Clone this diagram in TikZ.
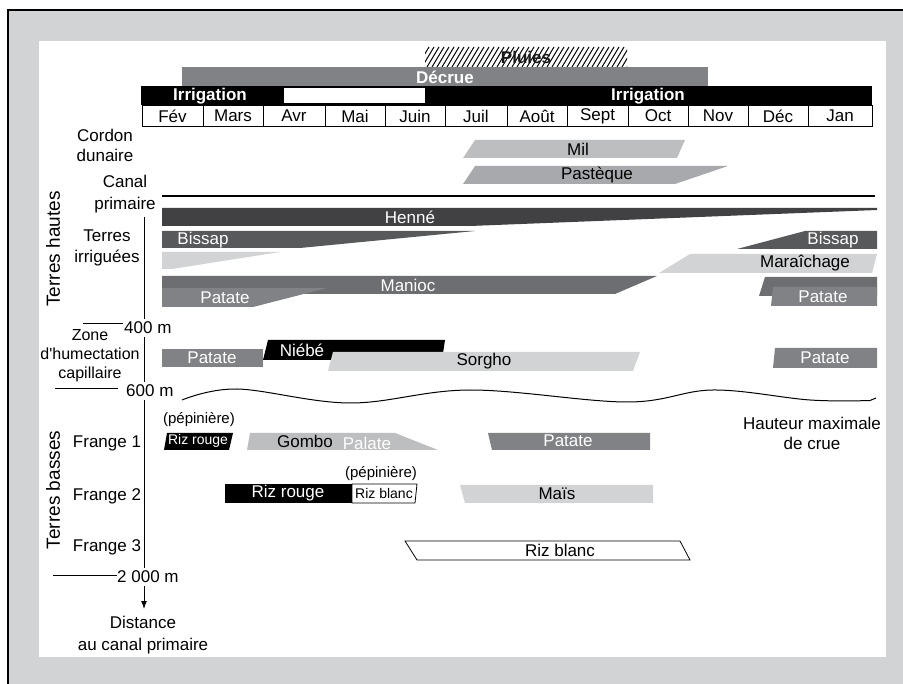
\documentclass[tikz,border=0pt]{standalone}
\usepackage{fontspec}
\setmainfont{Liberation Sans}
\newfontfamily\plainfont{Liberation Sans}
\usetikzlibrary{arrows.meta}
\definecolor{bggray}{HTML}{D1D3D4}
\definecolor{cHenne}{HTML}{414042}
\definecolor{cBissap}{HTML}{58595B}
\definecolor{cManioc}{HTML}{6D6E71}
\definecolor{cPatate}{HTML}{808285}
\definecolor{cPasteque}{HTML}{A7A9AC}
\definecolor{cMil}{HTML}{BCBEC0}
\definecolor{cLight}{HTML}{D1D3D4}
\definecolor{cPluies}{HTML}{1A1A1A}
\begin{document}
\begin{tikzpicture}[x=1pt,y=-1pt,
  lbl/.style={font=\fontsize{17}{20}\selectfont, inner sep=0pt, align=center},
  wlbl/.style={lbl, text=white},
  hdr/.style={font=\fontsize{17}{20}\selectfont\bfseries, inner sep=0pt, text=white},
  small/.style={font=\fontsize{15}{18}\selectfont, inner sep=0pt},
  smaller/.style={font=\fontsize{14}{17}\selectfont, inner sep=0pt},
  big/.style={font=\fontsize{19}{22}\selectfont, inner sep=0pt, rotate=90},
  dist/.style={lbl, fill=white, inner sep=3pt},
  thin/.style={line width=0.8pt},
  axis/.style={line width=1pt}
]
\useasboundingbox (0,0) rectangle (903,684);
% frame
\fill[bggray] (8,10) rectangle (903,684);
\draw[line width=1.2pt] (8,684) -- (8,10) -- (903,10);
\fill[white] (39,41) rectangle (886,657);

% Pluies hatch
\begin{scope}
  \clip (425,47) rectangle (627,67);
  \foreach \i in {0,...,45} \draw[line width=1pt] ({412+\i*5},67) -- ({424+\i*5},47);
\end{scope}
\node[font=\fontsize{17}{20}\selectfont\bfseries, inner sep=0pt, text=cPluies] (pluies) at (526,57) {Pluies};

% Decrue
\fill[cPatate] (182,67) rectangle (708,86);
\node[hdr] (decrue) at (445,77) {Décrue};

% Irrigation
\fill[black] (141,86) rectangle (872,105);
\fill[white] (284,88) rectangle (425,103);
\node[hdr] (irr1) at (210,96) {Irrigation};
\node[hdr] (irr2) at (648,96) {Irrigation};

% months
\foreach \a/\b/\m [count=\i] in {142/203/Fév,203/263/Mars,263/325/Avr,325/385/Mai,385/445/Juin,445/507/Juil,507/567/Août,567/628/Sept,628/688/Oct,688/748/Nov,748/808/Déc,808/872/Jan}{
  \draw[thin] (\a,105) rectangle (\b,126);
  \node[lbl] (month\i) at ({(\a+\b)/2},116) {\m};
}

% left labels
\node[lbl, font=\fontsize{17}{20}\selectfont] (cordon) at (105,145) {Cordon\\dunaire};
\node[lbl, font=\fontsize{17}{22}\selectfont] (canal) at (125,194) {Canal\\primaire};
\node[lbl, font=\fontsize{17}{21}\selectfont] (irrig) at (107,248) {Terres\\irriguées};
\node[lbl, font=\fontsize{16}{19}\selectfont\plainfont] (zone) at (90,356) {Zone\\d'humectation\\capillaire};
\node[big] (thautes) at (53,249) {Terres hautes};
\node[big] (tbasses) at (53,490) {Terres basses};
\node[lbl] (fr1) at (107,443) {Frange 1};
\node[lbl] (fr2) at (107,496) {Frange 2};
\node[lbl] (fr3) at (107,547) {Frange 3};
\node[lbl, font=\fontsize{17}{20}\selectfont] (crue) at (812,433) {Hauteur maximale\\de crue};
\node[lbl, font=\fontsize{17}{22}\selectfont] (distance) at (143,635) {Distance\\au canal primaire};

% axis
\coordinate (axtop) at (144,217);
\coordinate (axbot) at (144,609);
\draw[axis, -{Latex[length=8pt,width=6pt]}] (axtop) -- (axbot);
\coordinate (t4a) at (83,324); \coordinate (t4b) at (123,324);
\coordinate (t6a) at (55,389); \coordinate (t6b) at (118,389);
\coordinate (t2a) at (53,575); \coordinate (t2b) at (117,575);
\draw[axis] (t4a) -- (t4b);
\draw[axis] (t6a) -- (t6b);
\draw[axis] (t2a) -- (t2b);
\node[dist, anchor=west, inner xsep=1pt] (m400) at (123,328) {400 m};
\node[dist, anchor=west, inner xsep=1pt] (m600) at (125,391) {600 m};
\node[dist, anchor=west, inner xsep=0pt] (m2000) at (117,577) {2 000 m};

% canal line
\coordinate (canalA) at (162,196);
\coordinate (canalB) at (875,196);
\draw[line width=2pt] (canalA) -- (canalB);

% Cordon dunaire
\fill[cMil] (475,140) -- (685,140) -- (677,158) -- (463,158) -- cycle;
\node[lbl] (mil) at (578,149) {Mil};
\fill[cPasteque] (475,166) -- (728,166) -- (675,184) -- (463,184) -- cycle;
\node[lbl] (pasteque) at (597,175) {Pastèque};

% Terres irriguees
\fill[cHenne] (162,208) -- (877,208) -- (877,210) -- (470,226) -- (162,226) -- cycle;
\node[wlbl] (henne) at (410,217) {Henné};
\fill[cBissap] (162,231) -- (475,231) -- (300,248) -- (162,248) -- cycle;
\node[wlbl] (bissap1) at (203,240) {Bissap};
\fill[cBissap] (805,231) -- (877,231) -- (877,249) -- (737,249) -- cycle;
\node[wlbl] (bissap2) at (833,240) {Bissap};
\fill[cLight] (162,252) -- (280,252) -- (172,269) -- (162,269) -- cycle;
\fill[cLight] (690,254) -- (877,254) -- (872,273) -- (659,273) -- cycle;
\node[lbl] (marai) at (805,263) {Maraîchage};
\fill[cManioc] (162,276) -- (657,276) -- (615,294) -- (162,294) -- cycle;
\node[wlbl] (manioc) at (408,285) {Manioc};
\fill[cPatate] (162,288) -- (327,288) -- (253,307) -- (162,307) -- cycle;
\node[wlbl] (patate1) at (225,298) {Patate};
\fill[cManioc] (765,277) -- (877,277) -- (877,296) -- (759,296) -- cycle;
\fill[cPatate] (773,287) -- (877,287) -- (877,306) -- (771,306) -- cycle;
\node[wlbl] (patate2) at (823,297) {Patate};

% Zone d'humectation
\fill[cPatate] (162,349) rectangle (263,367);
\node[wlbl] (patate3) at (212,358) {Patate};
\fill[black] (268,340) -- (445,340) -- (442,360) -- (263,360) -- cycle;
\node[wlbl] (niebe) at (302,350) {Niébé};
\fill[cLight] (333,352) -- (640,352) -- (633,371) -- (328,371) -- cycle;
\node[lbl] (sorgho) at (484,361) {Sorgho};
\fill[cPatate] (775,348) -- (877,348) -- (877,368) -- (773,368) -- cycle;
\node[wlbl] (patate4) at (825,358) {Patate};

% crue wavy line
\draw[line width=1pt] plot[smooth, tension=0.6] coordinates {(182,400) (237,389) (350,403) (470,390) (627,402) (713,390) (810,400) (870,400.5)} -- (876,398);

% Frange 1
\node[small] (pep1) at (199,420) {(pépinière)};
\fill[black] (167,433) -- (233,433) -- (229,450) -- (164,450) -- cycle;
\node[smaller, text=white] (rizr1) at (198,441) {Riz rouge};
\fill[cMil] (250,433) -- (395,433) -- (438,450) -- (247,450) -- cycle;
\node[lbl] (gombo) at (305,441) {Gombo};
\node[wlbl] (palate) at (367,443) {Palate};
\fill[cPatate] (488,433) -- (650,433) -- (650,450) -- (492,450) -- cycle;
\node[wlbl] (patate5) at (568,441) {Patate};

% Frange 2
\node[small] (pep2) at (381,474) {(pépinière)};
\fill[black] (225,484) rectangle (352,503);
\node[wlbl] (rizr2) at (288,493) {Riz rouge};
\draw[thin, fill=white] (352,484) -- (417,484) -- (415,503) -- (352,503) -- cycle;
\node[smaller] (rizb1) at (384,493) {Riz blanc};
\fill[cLight] (460,485) -- (653,485) -- (653,503) -- (465,503) -- cycle;
\node[lbl] (mais) at (557,494) {Maïs};

% Frange 3
\draw[thin, fill=white] (405,541) -- (680,541) -- (690,560) -- (417,560) -- cycle;
\node[lbl] (rizb2) at (560,550) {Riz blanc};
\end{tikzpicture}
\end{document}
